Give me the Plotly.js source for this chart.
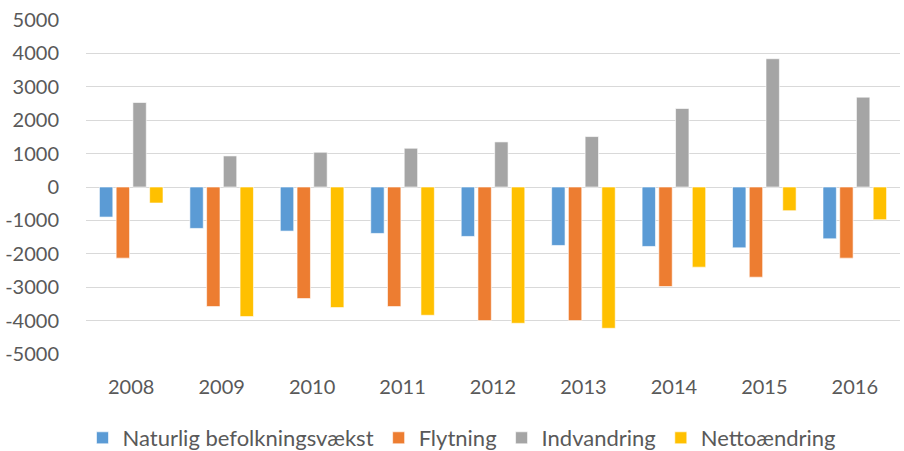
<!DOCTYPE html>
<html>
<head>
<meta charset="utf-8">
<script src="https://cdn.plot.ly/plotly-3.0.1.min.js"></script>
<style>html,body{margin:0;padding:0;background:#fff;}#chart{width:904px;height:451px;}</style>
</head>
<body>
<div id="chart"></div>
<script>
const years = ['2008','2009','2010','2011','2012','2013','2014','2015','2016'];
const naturlig = [-900, -1240, -1320, -1390, -1480, -1750, -1780, -1820, -1550];
const flytning = [-2130, -3580, -3340, -3580, -4000, -4000, -2980, -2700, -2130];
const indvandring = [2530, 930, 1040, 1160, 1350, 1510, 2350, 3840, 2690];
const netto = [-480, -3880, -3610, -3840, -4080, -4230, -2400, -710, -980];
const seriesNames = ['Naturlig befolkningsvækst', 'Flytning', 'Indvandring', 'Nettoændring'];
const colors = ['#5B9BD5', '#ED7D31', '#A5A5A5', '#FFC000'];
const values = [naturlig, flytning, indvandring, netto];
const yTicks = [-5000,-4000,-3000,-2000,-1000,0,1000,2000,3000,4000,5000];

const traces = values.map((v, i) => ({
  type: 'bar', x: years, y: v, name: seriesNames[i],
  marker: {color: colors[i], line: {color: 'rgba(255,255,255,0.6)', width: 1}},
  hoverinfo: 'none'
}));

const font = {family: 'Lato, "Open Sans", sans-serif', size: 20, color: '#595959'};
const layout = {
  width: 904, height: 451,
  margin: {l: 86, r: 4, t: 20, b: 97},
  paper_bgcolor: '#fff', plot_bgcolor: '#fff',
  barmode: 'group', bargap: 0.26, bargroupgap: 0.2,
  font: font,
  showlegend: true,
  legend: {orientation: 'h', x: 462/904, xref: 'container', xanchor: 'center',
           y: (451-438)/451, yref: 'container', yanchor: 'middle',
           font: Object.assign({}, font, {size: 22}), itemwidth: 30, traceorder: 'normal'},
  xaxis: {type: 'category', showgrid: false, zeroline: false, showline: false, automargin: false,
          ticks: 'outside', ticklen: 15, tickcolor: 'rgba(0,0,0,0)', tickfont: font},
  yaxis: {range: [-5000, 5000], tickvals: yTicks, ticktext: yTicks.map(String), automargin: false,
          showgrid: true, gridcolor: '#D9D9D9', gridwidth: 1,
          zeroline: true, zerolinecolor: '#D9D9D9', zerolinewidth: 1,
          showline: false, ticks: 'outside', ticklen: 22, tickcolor: 'rgba(0,0,0,0)',
          tickfont: font}
};
Plotly.newPlot('chart', traces, layout, {displayModeBar: false, staticPlot: true});
</script>
</body>
</html>
